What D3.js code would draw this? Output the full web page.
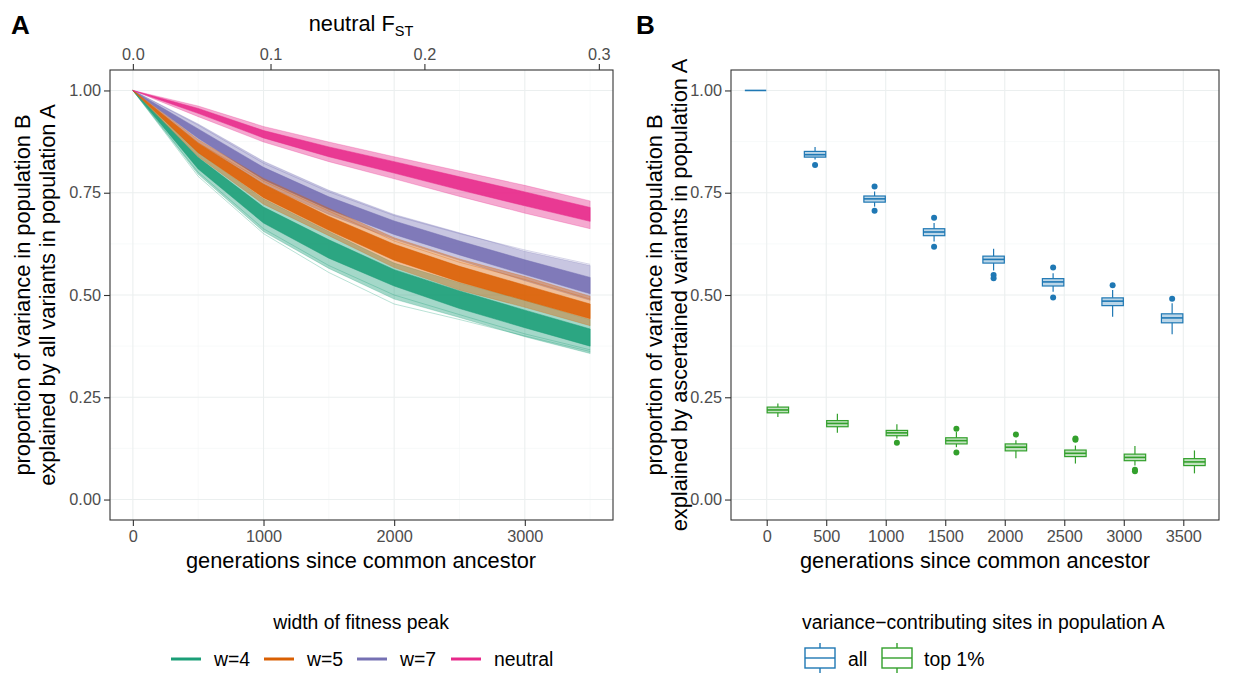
<!DOCTYPE html>
<html>
<head>
<meta charset="utf-8">
<script src="https://cdn.jsdelivr.net/npm/d3@7"></script>
<style>
  body { margin: 0; background: #fff; }
  svg { font-family: "Liberation Sans", Arial, Helvetica, sans-serif; }
  .tick text { fill: #4d4d4d; font-size: 16.3px; font-family: "Liberation Sans", Arial, sans-serif; }
  .tick line { stroke: #333; stroke-width: 1.1; }
</style>
</head>
<body>
<div class="board"></div>
<script>
// panel A: generations on x, proportion of variance on y
var gens = [0, 500, 1000, 1500, 2000, 2500, 3000, 3500];
var groupsA = ["w=4", "w=5", "w=7", "neutral"];
var colorsA = ["#1b9e77", "#d95f02", "#7570b3", "#e7298a"];

// outer envelope of the replicate lines, and the dense core
var w4Lo     = [1, 0.795, 0.655, 0.565, 0.490, 0.445, 0.398, 0.357];
var w4Hi     = [1, 0.848, 0.735, 0.655, 0.578, 0.530, 0.487, 0.440];
var w4CoreLo = [1, 0.808, 0.676, 0.590, 0.522, 0.467, 0.420, 0.375];
var w4CoreHi = [1, 0.836, 0.715, 0.635, 0.562, 0.510, 0.463, 0.417];

var w5Lo     = [1, 0.838, 0.722, 0.645, 0.567, 0.512, 0.470, 0.425];
var w5Hi     = [1, 0.880, 0.785, 0.712, 0.640, 0.588, 0.545, 0.497];
var w5CoreLo = [1, 0.848, 0.738, 0.658, 0.585, 0.532, 0.487, 0.442];
var w5CoreHi = [1, 0.871, 0.771, 0.692, 0.624, 0.570, 0.524, 0.478];

var w7Lo     = [1, 0.872, 0.770, 0.697, 0.636, 0.585, 0.535, 0.487];
var w7Hi     = [1, 0.918, 0.827, 0.756, 0.697, 0.652, 0.607, 0.572];
var w7CoreLo = [1, 0.883, 0.782, 0.709, 0.648, 0.598, 0.550, 0.503];
var w7CoreHi = [1, 0.906, 0.812, 0.740, 0.681, 0.632, 0.586, 0.543];

var neuLo     = [1, 0.936, 0.874, 0.826, 0.784, 0.741, 0.700, 0.662];
var neuHi     = [1, 0.962, 0.912, 0.874, 0.838, 0.803, 0.768, 0.730];
var neuCoreLo = [1, 0.944, 0.884, 0.838, 0.798, 0.757, 0.718, 0.680];
var neuCoreHi = [1, 0.956, 0.902, 0.862, 0.826, 0.789, 0.752, 0.714];

// a few stray replicates that sit apart from the bundles
var w4Stray1 = [1, 0.790, 0.650, 0.555, 0.478, 0.440, 0.400, 0.362];
var w4Stray2 = [1, 0.800, 0.662, 0.572, 0.500, 0.452, 0.405, 0.366];
var w5Stray1 = [1, 0.872, 0.778, 0.705, 0.632, 0.580, 0.538, 0.490];
var w7Stray1 = [1, 0.915, 0.822, 0.752, 0.694, 0.650, 0.610, 0.575];

var fstTicks = [0, 0.1, 0.2, 0.3];
var yTicks = [0, 0.25, 0.5, 0.75, 1];

// panel B: boxplots, [lower whisker, q1, median, q3, upper whisker]
var gensB = ["0", "500", "1000", "1500", "2000", "2500", "3000", "3500"];
var groupsB = ["all", "top 1%"];
var colorsB = ["#1f78b4", "#33a02c"];

var allBoxes = [
  [1, 1, 1, 1, 1],
  [0.831, 0.837, 0.843, 0.851, 0.862],
  [0.716, 0.727, 0.735, 0.742, 0.753],
  [0.631, 0.645, 0.654, 0.662, 0.676],
  [0.560, 0.578, 0.587, 0.595, 0.613],
  [0.508, 0.522, 0.532, 0.540, 0.553],
  [0.447, 0.474, 0.485, 0.493, 0.512],
  [0.404, 0.432, 0.444, 0.454, 0.480]
];
var allOutliers = [[], [0.818], [0.765, 0.706], [0.689, 0.618], [0.549, 0.541], [0.567, 0.494], [0.524], [0.491]];

var topBoxes = [
  [0.202, 0.212, 0.219, 0.226, 0.235],
  [0.163, 0.178, 0.186, 0.193, 0.210],
  [0.149, 0.156, 0.163, 0.169, 0.184],
  [0.128, 0.136, 0.144, 0.151, 0.165],
  [0.101, 0.119, 0.128, 0.136, 0.145],
  [0.088, 0.105, 0.113, 0.121, 0.132],
  [0.083, 0.095, 0.103, 0.111, 0.131],
  [0.064, 0.083, 0.092, 0.100, 0.120]
];
var topOutliers = [[], [], [0.139], [0.173, 0.115], [0.159], [0.146, 0.149], [0.073, 0.069], []];

var svg = d3.select(".board").append("svg")
  .attr("width", 1238)
  .attr("height", 675);

var y = d3.scaleLinear().domain([-0.05, 1.05]).range([520, 70]);
var gridMajor = "#ebefef", gridMinor = "#f4f6f6";
var titleSize = 21.8, legendSize = 19.4;

function cleanAxis(g) {
  g.attr("font-size", null).attr("font-family", null);
  g.select(".domain").remove();
}

// ---------- panel A ----------
var xA = d3.scaleLinear().domain([-175, 3675]).range([110, 613]);
var gA = svg.append("g");

[0.125, 0.375, 0.625, 0.875].forEach(function(v) {
  gA.append("line").attr("x1", 110).attr("x2", 613).attr("y1", y(v)).attr("y2", y(v))
    .attr("stroke", gridMinor).attr("stroke-width", 0.6);
});
[500, 1500, 2500, 3500].forEach(function(v) {
  gA.append("line").attr("x1", xA(v)).attr("x2", xA(v)).attr("y1", 70).attr("y2", 520)
    .attr("stroke", gridMinor).attr("stroke-width", 0.6);
});
yTicks.forEach(function(v) {
  gA.append("line").attr("x1", 110).attr("x2", 613).attr("y1", y(v)).attr("y2", y(v))
    .attr("stroke", gridMajor).attr("stroke-width", 1.1);
});
[0, 1000, 2000, 3000].forEach(function(v) {
  gA.append("line").attr("x1", xA(v)).attr("x2", xA(v)).attr("y1", 70).attr("y2", 520)
    .attr("stroke", gridMajor).attr("stroke-width", 1.1);
});

var bandsA = [
  {lo: w4Lo, hi: w4Hi, clo: w4CoreLo, chi: w4CoreHi, stray: [w4Stray1, w4Stray2], col: colorsA[0]},
  {lo: w7Lo, hi: w7Hi, clo: w7CoreLo, chi: w7CoreHi, stray: [w7Stray1], col: colorsA[2]},
  {lo: w5Lo, hi: w5Hi, clo: w5CoreLo, chi: w5CoreHi, stray: [w5Stray1], col: colorsA[1]},
  {lo: neuLo, hi: neuHi, clo: neuCoreLo, chi: neuCoreHi, stray: [], col: colorsA[3]}
];

var area = d3.area()
  .x(function(d, i) { return xA(gens[i]); })
  .y0(function(d) { return y(d[0]); })
  .y1(function(d) { return y(d[1]); });
var line = d3.line()
  .x(function(d, i) { return xA(gens[i]); })
  .y(function(d) { return y(d); });

bandsA.forEach(function(b) {
  b.stray.forEach(function(s) {
    gA.append("path").attr("d", line(s)).attr("fill", "none")
      .attr("stroke", b.col).attr("stroke-opacity", 0.3).attr("stroke-width", 1);
  });
  gA.append("path").attr("d", area(d3.zip(b.lo, b.hi)))
    .attr("fill", b.col).attr("fill-opacity", 0.4)
    .attr("stroke", b.col).attr("stroke-opacity", 0.25).attr("stroke-width", 1);
  gA.append("path").attr("d", area(d3.zip(b.clo, b.chi)))
    .attr("fill", b.col).attr("fill-opacity", 0.88)
    .attr("stroke", b.col).attr("stroke-opacity", 0.5).attr("stroke-width", 1);
});

gA.append("rect").attr("x", 110).attr("y", 70).attr("width", 503).attr("height", 450)
  .attr("fill", "none").attr("stroke", "#333").attr("stroke-width", 1.1);

gA.append("g").attr("transform", "translate(0,520)")
  .call(d3.axisBottom(xA).tickValues([0, 1000, 2000, 3000]).tickFormat(d3.format("d"))
    .tickSize(6).tickSizeOuter(0).tickPadding(4))
  .call(cleanAxis);
gA.append("g").attr("transform", "translate(110,0)")
  .call(d3.axisLeft(y).tickValues(yTicks).tickFormat(d3.format(".2f")).tickSize(6).tickSizeOuter(0).tickPadding(3))
  .call(cleanAxis);
// top axis: neutral F_ST = 1 - exp(-t / 10000)
gA.append("g").attr("transform", "translate(0,70)")
  .call(d3.axisTop(xA)
    .tickValues(fstTicks.map(function(f) { return -10000 * Math.log(1 - f); }))
    .tickFormat(function(d, i) { return d3.format(".1f")(fstTicks[i]); })
    .tickSize(6).tickSizeOuter(0).tickPadding(4))
  .call(cleanAxis);

var topTitle = gA.append("text").attr("x", 361).attr("y", 31).attr("text-anchor", "middle")
  .attr("font-size", titleSize);
topTitle.append("tspan").text("neutral F");
topTitle.append("tspan").attr("font-size", 14.5).attr("dy", 5).text("ST");

gA.append("text").attr("x", 361).attr("y", 568).attr("text-anchor", "middle")
  .attr("font-size", titleSize).text("generations since common ancestor");
gA.append("text").attr("transform", "translate(29.5,295) rotate(-90)").attr("text-anchor", "middle")
  .attr("font-size", titleSize).text("proportion of variance in population B");
gA.append("text").attr("transform", "translate(54.5,295) rotate(-90)").attr("text-anchor", "middle")
  .attr("font-size", titleSize).text("explained by all variants in population A");
svg.append("text").attr("x", 11).attr("y", 34).attr("font-size", 26).attr("font-weight", "bold").text("A");

// legend A
svg.append("text").attr("x", 361).attr("y", 629).attr("text-anchor", "middle")
  .attr("font-size", legendSize).text("width of fitness peak");
var keyXA = [171, 264, 357, 451];
groupsA.forEach(function(name, i) {
  svg.append("line").attr("x1", keyXA[i]).attr("x2", keyXA[i] + 30).attr("y1", 659).attr("y2", 659)
    .attr("stroke", colorsA[i]).attr("stroke-width", 3);
  svg.append("text").attr("x", keyXA[i] + 43).attr("y", 666).attr("font-size", legendSize).text(name);
});

// ---------- panel B ----------
var xB = d3.scaleLinear().domain([-0.6, 7.6]).range([731, 1219]);
var gB = svg.append("g");

[0.125, 0.375, 0.625, 0.875].forEach(function(v) {
  gB.append("line").attr("x1", 731).attr("x2", 1219).attr("y1", y(v)).attr("y2", y(v))
    .attr("stroke", gridMinor).attr("stroke-width", 0.6);
});
yTicks.forEach(function(v) {
  gB.append("line").attr("x1", 731).attr("x2", 1219).attr("y1", y(v)).attr("y2", y(v))
    .attr("stroke", gridMajor).attr("stroke-width", 1.1);
});
gensB.forEach(function(g, i) {
  gB.append("line").attr("x1", xB(i)).attr("x2", xB(i)).attr("y1", 70).attr("y2", 520)
    .attr("stroke", gridMajor).attr("stroke-width", 1.1);
});

function drawBoxes(boxes, outliers, col, offset) {
  var bw = 0.36;
  boxes.forEach(function(b, i) {
    var cx = xB(i + offset);
    var left = xB(i + offset - bw / 2), right = xB(i + offset + bw / 2);
    gB.append("line").attr("x1", cx).attr("x2", cx).attr("y1", y(b[4])).attr("y2", y(b[3]))
      .attr("stroke", col).attr("stroke-width", 1.2);
    gB.append("line").attr("x1", cx).attr("x2", cx).attr("y1", y(b[1])).attr("y2", y(b[0]))
      .attr("stroke", col).attr("stroke-width", 1.2);
    gB.append("rect").attr("x", left).attr("y", y(b[3]))
      .attr("width", right - left).attr("height", y(b[1]) - y(b[3]))
      .attr("fill", col).attr("fill-opacity", 0.3).attr("stroke", col).attr("stroke-width", 1.2);
    gB.append("line").attr("x1", left).attr("x2", right).attr("y1", y(b[2])).attr("y2", y(b[2]))
      .attr("stroke", col).attr("stroke-width", 1.6);
    outliers[i].forEach(function(o) {
      gB.append("circle").attr("cx", cx).attr("cy", y(o)).attr("r", 3).attr("fill", col);
    });
  });
}
drawBoxes(allBoxes, allOutliers, colorsB[0], -0.1875);
drawBoxes(topBoxes, topOutliers, colorsB[1], 0.1875);

gB.append("rect").attr("x", 731).attr("y", 70).attr("width", 488).attr("height", 450)
  .attr("fill", "none").attr("stroke", "#333").attr("stroke-width", 1.1);

gB.append("g").attr("transform", "translate(0,520)")
  .call(d3.axisBottom(xB).tickValues(d3.range(gensB.length))
    .tickFormat(function(d) { return gensB[d]; }).tickSize(6).tickSizeOuter(0).tickPadding(4))
  .call(cleanAxis);
gB.append("g").attr("transform", "translate(731,0)")
  .call(d3.axisLeft(y).tickValues(yTicks).tickFormat(d3.format(".2f")).tickSize(6).tickSizeOuter(0).tickPadding(3))
  .call(cleanAxis);

gB.append("text").attr("x", 975).attr("y", 568).attr("text-anchor", "middle")
  .attr("font-size", titleSize).text("generations since common ancestor");
gB.append("text").attr("transform", "translate(662,295) rotate(-90)").attr("text-anchor", "middle")
  .attr("font-size", titleSize).text("proportion of variance in population B");
gB.append("text").attr("transform", "translate(687,295) rotate(-90)").attr("text-anchor", "middle")
  .attr("font-size", titleSize).text("explained by ascertained variants in population A");
svg.append("text").attr("x", 636).attr("y", 34).attr("font-size", 26).attr("font-weight", "bold").text("B");

// legend B
svg.append("text").attr("x", 802).attr("y", 629).attr("font-size", legendSize)
  .text("variance\u2212contributing sites in population A");
var keyXB = [805, 882];
var labelXB = [848, 924];
groupsB.forEach(function(name, i) {
  var kx = keyXB[i];
  svg.append("line").attr("x1", kx + 15).attr("x2", kx + 15).attr("y1", 643).attr("y2", 673)
    .attr("stroke", colorsB[i]).attr("stroke-width", 1.4);
  svg.append("rect").attr("x", kx).attr("y", 648).attr("width", 30).attr("height", 20)
    .attr("fill", "#fff").attr("stroke", colorsB[i]).attr("stroke-width", 1.4);
  svg.append("line").attr("x1", kx).attr("x2", kx + 30).attr("y1", 658).attr("y2", 658)
    .attr("stroke", colorsB[i]).attr("stroke-width", 1.4);
  svg.append("text").attr("x", labelXB[i]).attr("y", 666).attr("font-size", legendSize).text(name);
});
</script>
</body>
</html>
